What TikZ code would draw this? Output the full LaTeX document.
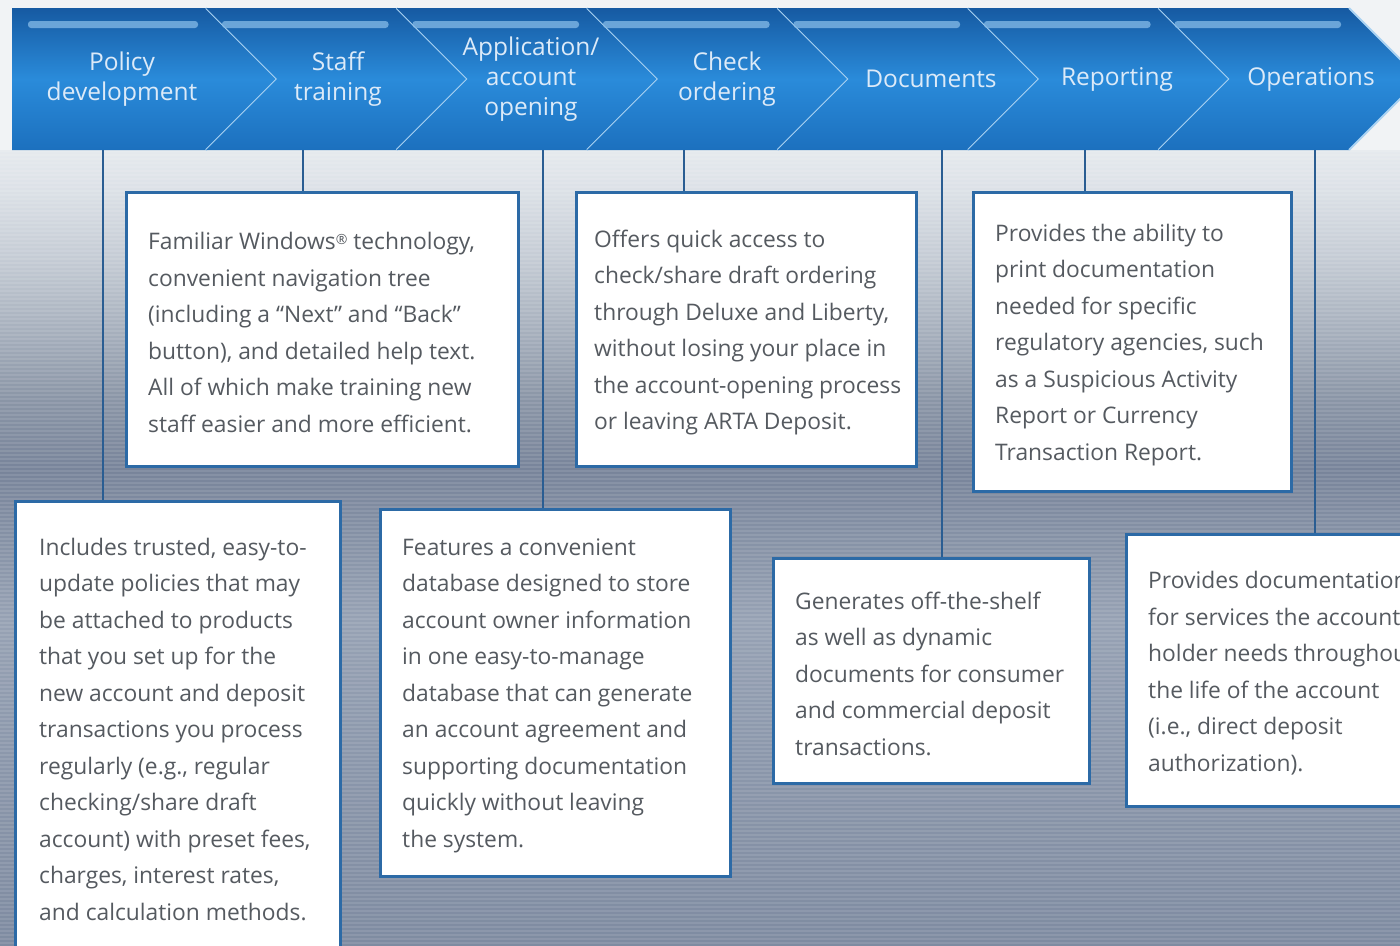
\documentclass[tikz,border=0pt]{standalone}
\usepackage{fontspec}
\setmainfont{Open Sans}
\usetikzlibrary{shadows}

\definecolor{chevtop}{HTML}{165AA2}
\definecolor{chevmid}{HTML}{2A8BDA}
\definecolor{chevbot}{HTML}{1C70BE}
\definecolor{chevedge}{HTML}{A9D2F2}
\definecolor{chevstripe}{HTML}{86BBE8}
\definecolor{chevtext}{HTML}{DCEAF8}
\definecolor{linkblue}{HTML}{2A5D92}
\definecolor{boxblue}{HTML}{2C6AA6}
\definecolor{boxgray}{HTML}{555A60}
\definecolor{bgtop}{HTML}{F1F3F5}
\definecolor{bgA}{HTML}{7E8BA1}
\definecolor{bgB}{HTML}{838FA4}
\definecolor{bgC}{HTML}{8B97AB}
\definecolor{bgD}{HTML}{97A2B4}
\definecolor{bgE}{HTML}{8692A6}
\definecolor{bgF}{HTML}{78849A}
\definecolor{bgG}{HTML}{8A95A6}
\definecolor{bgH}{HTML}{A7B0BD}
\definecolor{bgI}{HTML}{C4CBD4}
\definecolor{bgJ}{HTML}{DCE1E7}
\definecolor{bgK}{HTML}{E6EAEE}
\pgfdeclareverticalshading{backfade}{100bp}{color(0bp)=(bgA); color(25bp)=(bgA);
  color(29bp)=(bgB); color(36.6bp)=(bgC); color(45.4bp)=(bgD); color(50.5bp)=(bgE);
  color(54.9bp)=(bgF); color(59.3bp)=(bgG); color(63.7bp)=(bgH); color(68.1bp)=(bgI);
  color(72.5bp)=(bgJ); color(75bp)=(bgK); color(100bp)=(bgK)}

\begin{document}
\begin{tikzpicture}[x=1pt,y=-1pt,
  link/.style={draw=linkblue, line width=2.4pt},
  infobox/.style={draw=boxblue, line width=2.6pt, fill=white, anchor=north west, inner sep=0pt,
    drop shadow={shadow xshift=2pt, shadow yshift=-2pt, opacity=0.35}},
  boxtext/.style={anchor=west, align=left, inner sep=0pt, text=boxgray,
    font=\fontsize{22.8}{36.5}\selectfont, yshift=-3pt},
  chevlabel/.style={align=center, inner sep=0pt, text=chevtext, font=\fontsize{24.5}{30}\selectfont}]
  \useasboundingbox (0,0) rectangle (1400,945);
  \clip (0,0) rectangle (1400,945);

  %background
  \fill[bgtop] (0,0) rectangle (1400,945);
  \shade[shading=backfade] (0,150) rectangle (1400,945);
  \foreach \y in {151,155,...,945}
    \draw[white, opacity=0.1, line width=1.4pt] (0,\y) -- (1400,\y);

  %boxes
  \node[infobox, minimum width=392, minimum height=274] (staffbox) at (125,191) {};
  \node[infobox, minimum width=340, minimum height=274] (checkbox) at (575,191) {};
  \node[infobox, minimum width=318, minimum height=299] (reportbox) at (972,191) {};
  \node[infobox, minimum width=325, minimum height=450] (policybox) at (14,500) {};
  \node[infobox, minimum width=350, minimum height=367] (appbox) at (379,508) {};
  \node[infobox, minimum width=316, minimum height=225] (docbox) at (772,557) {};
  \node[infobox, minimum width=300, minimum height=272] (opsbox) at (1125,533) {};

  %feet of the connectors under the band
  \coordinate (polfoot) at (103,150);
  \coordinate (stafffoot) at (303,150);
  \coordinate (appfoot) at (543,150);
  \coordinate (checkfoot) at (684,150);
  \coordinate (docfoot) at (942,150);
  \coordinate (reportfoot) at (1085,150);
  \coordinate (opsfoot) at (1315,150);
  \draw[link] (polfoot) -- (policybox.north -| polfoot);
  \draw[link] (stafffoot) -- (staffbox.north -| stafffoot);
  \draw[link] (appfoot) -- (appbox.north -| appfoot);
  \draw[link] (checkfoot) -- (checkbox.north -| checkfoot);
  \draw[link] (docfoot) -- (docbox.north -| docfoot);
  \draw[link] (reportfoot) -- (reportbox.north -| reportfoot);
  \draw[link] (opsfoot) -- (opsbox.north -| opsfoot);

  %chevron band
  \foreach \i/\cx/\lab in {1/122/{Policy\\development}, 2/338/{Staff\\training},
      3/531/{Application/\\account\\opening}, 4/727/{Check\\ordering},
      5/931/{Documents}, 6/1117/{Reporting}, 7/1311/{Operations}} {
    \pgfmathsetmacro\tip{277+190.5*(\i-1)}
    \pgfmathsetmacro\prev{\tip-190.5}
    \pgfmathsetmacro\lx{\i==1 ? 12 : \prev-71}
    \pgfmathsetmacro\nx{\i==1 ? 12 : \prev}
    \shade[top color=chevtop, bottom color=chevbot, middle color=chevmid]
      (\lx,8) -- (\tip-71,8) -- (\tip,79) -- (\tip-71,150) -- (\lx,150) -- (\nx,79) -- cycle;
    \fill[chevstripe, opacity=0.75, rounded corners=3pt] (\lx+16,21) rectangle (\tip-79,28);
    \draw[chevedge, line width=1.8pt] (\tip-71,8) -- (\tip,79) -- (\tip-71,150);
    \node[chevlabel] (chev\i) at (\cx,79) {\lab};
  }

  %texts
  \node[boxtext] at ([xshift=23pt]staffbox.west) {Familiar Windows\raisebox{5pt}{\fontsize{14}{14}\selectfont ®} technology,\\
    convenient navigation tree\\ (including a “Next” and “Back”\\ button), and detailed help text.\\
    All of which make training new\\ staff easier and more efficient.};
  \node[boxtext] at ([xshift=19pt]checkbox.west) {Offers quick access to\\ check/share draft ordering\\
    through Deluxe and Liberty,\\ without losing your place in\\ the account-opening process\\
    or leaving ARTA Deposit.};
  \node[boxtext] at ([xshift=23pt]reportbox.west) {Provides the ability to\\ print documentation\\
    needed for specific\\ regulatory agencies, such\\ as a Suspicious Activity\\ Report or Currency\\
    Transaction Report.};
  \node[boxtext] at ([xshift=25pt]policybox.west) {Includes trusted, easy-to-\\ update policies that may\\
    be attached to products\\ that you set up for the\\ new account and deposit\\ transactions you process\\
    regularly (e.g., regular\\ checking/share draft\\ account) with preset fees,\\ charges, interest rates,\\
    and calculation methods.};
  \node[boxtext] at ([xshift=23pt]appbox.west) {Features a convenient\\ database designed to store\\
    account owner information\\ in one easy-to-manage\\ database that can generate\\ an account agreement and\\
    supporting documentation\\ quickly without leaving\\ the system.};
  \node[boxtext] at ([xshift=23pt]docbox.west) {Generates off-the-shelf\\ as well as dynamic\\
    documents for consumer\\ and commercial deposit\\ transactions.};
  \node[boxtext] at ([xshift=23pt]opsbox.west) {Provides documentation\\ for services the account\\
    holder needs throughout\\ the life of the account\\ (i.e., direct deposit\\ authorization).};
\end{tikzpicture}
\end{document}
